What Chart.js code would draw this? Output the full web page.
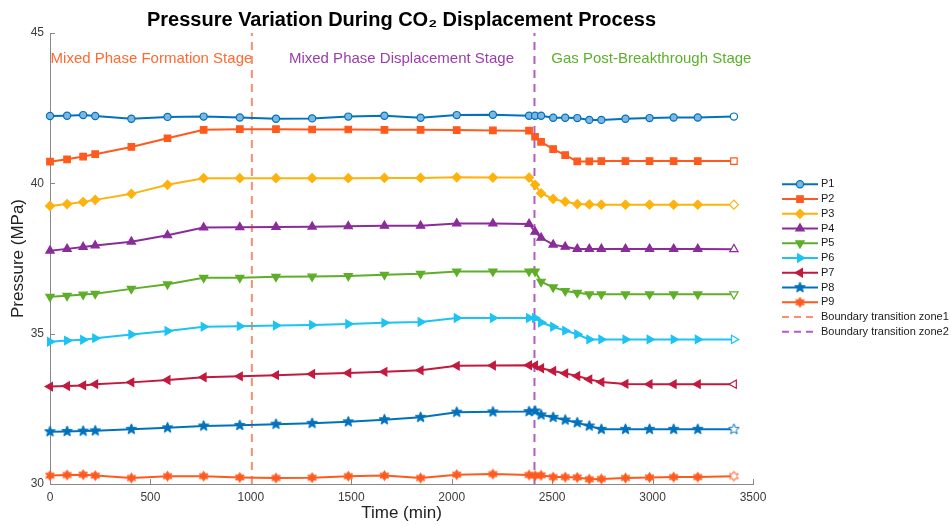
<!DOCTYPE html>
<html>
<head>
<meta charset="utf-8">
<script src="https://cdn.jsdelivr.net/npm/chart.js@4.4.1/dist/chart.umd.min.js"></script>
<style>
  html, body { margin: 0; padding: 0; background: #fff; }
  #wrap { width: 951px; height: 526px; }
</style>
</head>
<body>
<div id="wrap"><canvas id="chart" width="951" height="526"></canvas></div>
<script>
'use strict';

// time of each pressure reading (min)
const TIMES = [0, 85, 165, 225, 405, 585, 765, 945, 1125, 1305, 1485, 1665, 1845, 2025, 2205,
  2385, 2415, 2445, 2505, 2565, 2625, 2685, 2745, 2865, 2985, 3105, 3225, 3405];

// pressure at each measuring point (MPa)
const P1 = [42.24, 42.25, 42.27, 42.24, 42.15, 42.21, 42.22, 42.19, 42.15, 42.16, 42.22, 42.25, 42.18, 42.27, 42.28,
  42.25, 42.25, 42.25, 42.18, 42.18, 42.17, 42.11, 42.11, 42.15, 42.17, 42.19, 42.19, 42.22];
const P2 = [40.72, 40.80, 40.89, 40.97, 41.21, 41.50, 41.78, 41.80, 41.80, 41.79, 41.79, 41.78, 41.78, 41.77, 41.76,
  41.75, 41.55, 41.38, 41.14, 40.94, 40.73, 40.73, 40.74, 40.74, 40.74, 40.74, 40.74, 40.74];
const P3 = [39.25, 39.31, 39.38, 39.45, 39.65, 39.95, 40.17, 40.17, 40.17, 40.17, 40.17, 40.18, 40.18, 40.20, 40.19,
  40.19, 39.95, 39.67, 39.48, 39.39, 39.31, 39.30, 39.29, 39.29, 39.29, 39.29, 39.29, 39.29];
const P4 = [37.76, 37.82, 37.88, 37.93, 38.06, 38.27, 38.53, 38.54, 38.55, 38.56, 38.57, 38.59, 38.59, 38.66, 38.66,
  38.65, 38.39, 38.19, 37.96, 37.89, 37.82, 37.82, 37.82, 37.82, 37.82, 37.82, 37.82, 37.81];
const P5 = [36.23, 36.26, 36.30, 36.33, 36.49, 36.64, 36.86, 36.86, 36.89, 36.90, 36.92, 36.96, 36.99, 37.07, 37.07,
  37.07, 37.07, 36.73, 36.54, 36.42, 36.36, 36.31, 36.31, 36.31, 36.31, 36.31, 36.31, 36.31];
const P6 = [34.73, 34.77, 34.80, 34.85, 34.97, 35.09, 35.23, 35.25, 35.27, 35.29, 35.32, 35.36, 35.39, 35.52, 35.52,
  35.52, 35.52, 35.37, 35.23, 35.10, 34.98, 34.81, 34.81, 34.81, 34.81, 34.81, 34.81, 34.81];
const P7 = [33.24, 33.26, 33.28, 33.32, 33.38, 33.46, 33.55, 33.58, 33.62, 33.66, 33.69, 33.73, 33.78, 33.93, 33.94,
  33.95, 33.94, 33.85, 33.76, 33.68, 33.59, 33.48, 33.39, 33.33, 33.32, 33.32, 33.32, 33.32];
const P8 = [31.74, 31.75, 31.76, 31.77, 31.82, 31.87, 31.93, 31.95, 31.99, 32.02, 32.07, 32.14, 32.22, 32.39, 32.40,
  32.41, 32.43, 32.30, 32.22, 32.13, 32.04, 31.93, 31.82, 31.82, 31.82, 31.82, 31.82, 31.82];
const P9 = [30.28, 30.30, 30.31, 30.28, 30.20, 30.26, 30.26, 30.22, 30.20, 30.21, 30.26, 30.28, 30.20, 30.31, 30.33,
  30.30, 30.28, 30.29, 30.23, 30.23, 30.22, 30.16, 30.17, 30.20, 30.22, 30.23, 30.23, 30.26];

const SERIES = [P1, P2, P3, P4, P5, P6, P7, P8, P9];
const SERIES_NAMES = ['P1', 'P2', 'P3', 'P4', 'P5', 'P6', 'P7', 'P8', 'P9'];

// stage boundaries (min)
const ZONE_NAMES = ['Boundary transition zone1', 'Boundary transition zone2'];
const ZONE_TIMES = [1005, 2412];

const STAGE_LABELS = ['Mixed Phase Formation Stage', 'Mixed Phase Displacement Stage', 'Gas Post-Breakthrough Stage'];
const STAGE_TIMES = [505, 1750, 2994];
const STAGE_LEVEL = 44.15;

const X_TICKS = [0, 500, 1000, 1500, 2000, 2500, 3000, 3500];
const Y_TICKS = [30, 35, 40, 45];

const TITLE = 'Pressure Variation During CO\u2082 Displacement Process';

// ---- styling ----
const FONT = '"Liberation Sans", Arial, Helvetica, sans-serif';
const COLORS = ['#0072BD', '#FF5A1E', '#FDB30F', '#8A2C9A', '#5FAE2A', '#1CC3F3', '#C21A3E', '#0072BD', '#FF5A1E'];
const ZONE_COLORS = ['#F7906E', '#B45CC6'];
const STAGE_COLORS = ['#FF6A30', '#9A3EAA', '#5DB12A'];

function starCanvas(color, spikes, outer, inner, fill) {
  const size = Math.ceil(outer * 2 + 3);
  const c = document.createElement('canvas');
  c.width = size;
  c.height = size;
  const g = c.getContext('2d');
  g.translate(size / 2, size / 2);
  g.beginPath();
  for (let i = 0; i < spikes * 2; i++) {
    const r = i % 2 ? inner : outer;
    const a = -Math.PI / 2 + i * Math.PI / spikes;
    g.lineTo(r * Math.cos(a), r * Math.sin(a));
  }
  g.closePath();
  g.fillStyle = fill;
  g.fill();
  g.lineWidth = 1;
  g.strokeStyle = color;
  g.stroke();
  return c;
}

const MARKERS = [
  { style: 'circle', r: 3.6, rot: 0, fill: '#7db6de' },
  { style: 'rect', r: 4.6, rot: 0 },
  { style: 'rectRot', r: 4.5, rot: 0 },
  { style: 'triangle', r: 4.8, rot: 0 },
  { style: 'triangle', r: 4.8, rot: 180 },
  { style: 'triangle', r: 4.8, rot: 90 },
  { style: 'triangle', r: 4.8, rot: 270 },
  { style: starCanvas(COLORS[7], 5, 5.6, 2.4, COLORS[7]), hollow: starCanvas(COLORS[7], 5, 5.6, 2.4, '#fff'), r: 5.5, rot: 0 },
  { style: starCanvas(COLORS[8], 6, 5.0, 2.7, COLORS[8]), hollow: starCanvas(COLORS[8], 6, 5.0, 2.7, '#fff'), r: 5, rot: 0 },
];

const lastIdx = TIMES.length - 1;

const datasets = SERIES.map((vals, i) => {
  const m = MARKERS[i];
  const color = COLORS[i];
  const fill = m.fill || color;
  return {
    label: SERIES_NAMES[i],
    data: TIMES.map((t, k) => ({ x: t, y: vals[k] })),
    borderColor: color,
    borderWidth: 2,
    pointStyle: m.hollow ? (ctx => ctx.dataIndex === lastIdx ? m.hollow : m.style) : m.style,
    legendStyle: m.style,
    legendFill: fill,
    pointRotation: m.rot,
    pointRadius: m.r,
    pointBorderWidth: 1.2,
    pointBorderColor: color,
    pointBackgroundColor: ctx => ctx.dataIndex === lastIdx ? '#fff' : fill,
    tension: 0,
    clip: false,
  };
});

ZONE_TIMES.forEach((t, i) => {
  datasets.push({
    label: ZONE_NAMES[i],
    data: [{ x: t, y: Y_TICKS[0] }, { x: t, y: Y_TICKS[Y_TICKS.length - 1] }],
    borderColor: ZONE_COLORS[i],
    borderWidth: 2,
    borderDash: [8, 6],
    pointRadius: 0,
    clip: false,
  });
});

// title, stage captions, inward tick marks
const decorPlugin = {
  id: 'decor',
  beforeDatasetsDraw(chart) {
    const { ctx, chartArea, scales } = chart;
    ctx.save();
    ctx.strokeStyle = '#888';
    ctx.lineWidth = 1;
    ctx.beginPath();
    X_TICKS.forEach(v => {
      const px = Math.round(scales.x.getPixelForValue(v)) + 0.5;
      ctx.moveTo(px, chartArea.bottom);
      ctx.lineTo(px, chartArea.bottom - 5);
    });
    Y_TICKS.forEach(v => {
      const py = Math.round(scales.y.getPixelForValue(v)) + 0.5;
      ctx.moveTo(chartArea.left, py);
      ctx.lineTo(chartArea.left + 5, py);
    });
    ctx.stroke();

    ctx.font = '15px ' + FONT;
    ctx.textAlign = 'center';
    ctx.textBaseline = 'middle';
    STAGE_LABELS.forEach((txt, i) => {
      ctx.fillStyle = STAGE_COLORS[i];
      ctx.fillText(txt, scales.x.getPixelForValue(STAGE_TIMES[i]), scales.y.getPixelForValue(STAGE_LEVEL));
    });

    ctx.fillStyle = '#000';
    ctx.font = 'bold 20px ' + FONT;
    ctx.fillText(TITLE, (chartArea.left + chartArea.right) / 2, 20);
    ctx.restore();
  },
};

const legendPlugin = {
  id: 'sideLegend',
  afterDraw(chart) {
    const { ctx, chartArea } = chart;
    const x0 = chartArea.right + 29;
    const x1 = x0 + 36;
    const top = 184.3;
    const step = 14.75;
    chart.data.datasets.forEach((ds, i) => {
      const y = top + i * step;
      ctx.save();
      ctx.strokeStyle = ds.borderColor;
      ctx.lineWidth = ds.borderWidth;
      ctx.setLineDash(ds.borderDash ? [7, 5] : []);
      ctx.beginPath();
      ctx.moveTo(x0, y);
      ctx.lineTo(x1, y);
      ctx.stroke();
      ctx.setLineDash([]);
      if (ds.legendStyle) {
        ctx.fillStyle = ds.legendFill;
        ctx.strokeStyle = ds.borderColor;
        ctx.lineWidth = 1.2;
        Chart.helpers.drawPoint(ctx, {
          pointStyle: ds.legendStyle, rotation: ds.pointRotation, radius: ds.pointRadius, borderWidth: 1.2,
        }, (x0 + x1) / 2, y);
      }
      ctx.fillStyle = '#1a1a1a';
      ctx.font = '11px ' + FONT;
      ctx.textAlign = 'left';
      ctx.textBaseline = 'middle';
      ctx.fillText(ds.label, x1 + 3, y);
      ctx.restore();
    });
  },
};

Chart.defaults.font.family = FONT;

new Chart(document.getElementById('chart'), {
  type: 'line',
  data: { datasets },
  options: {
    responsive: false,
    animation: false,
    devicePixelRatio: 1,
    layout: { padding: { top: 33, right: 198, bottom: 0, left: 0 } },
    plugins: { legend: { display: false }, tooltip: { enabled: false } },
    scales: {
      x: {
        type: 'linear',
        min: X_TICKS[0],
        max: X_TICKS[X_TICKS.length - 1],
        afterBuildTicks: s => { s.ticks = X_TICKS.map(v => ({ value: v })); },
        afterFit: s => { s.height = 42; },
        ticks: { color: '#3c3c3c', font: { size: 12 }, padding: 6, maxRotation: 0, callback: v => String(v) },
        grid: { display: false, drawTicks: false },
        border: { display: true, color: '#888', width: 1 },
        title: { display: true, text: 'Time (min)', color: '#222', font: { size: 17 }, padding: { top: 0, bottom: 2 } },
      },
      y: {
        type: 'linear',
        min: Y_TICKS[0],
        max: Y_TICKS[Y_TICKS.length - 1],
        afterBuildTicks: s => { s.ticks = Y_TICKS.map(v => ({ value: v })); },
        afterFit: s => { s.width = 50; },
        ticks: { color: '#3c3c3c', font: { size: 12 }, padding: 6, callback: v => String(v) },
        grid: { display: false, drawTicks: false },
        border: { display: true, color: '#888', width: 1 },
        title: { display: true, text: 'Pressure (MPa)', color: '#222', font: { size: 17 }, padding: { top: 8, bottom: 0 } },
      },
    },
  },
  plugins: [decorPlugin, legendPlugin],
});
</script>
</body>
</html>
